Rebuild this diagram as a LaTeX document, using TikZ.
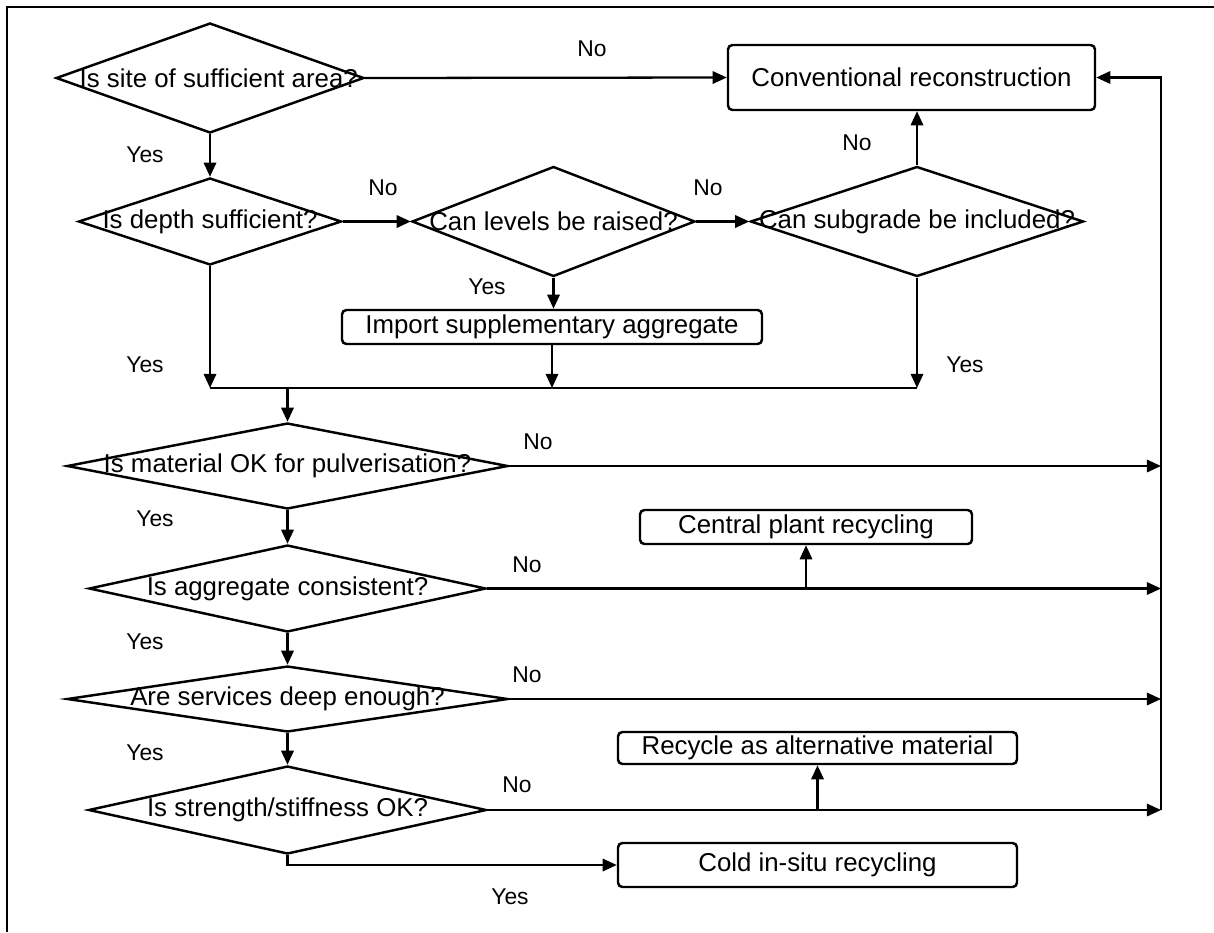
\documentclass[tikz,border=0pt]{standalone}
\usepackage{fontspec}
\setmainfont{Liberation Sans}
\usepackage{tikz}
\usetikzlibrary{arrows.meta}
\usetikzlibrary{shapes.geometric, calc}
\tikzstyle{decision} = [diamond, draw=black, line width=1.4pt, inner sep=0pt]
\tikzstyle{outcome} = [rectangle, rounded corners=2.5pt, draw=black, line width=1.4pt, inner sep=0pt, text centered]
\tikzstyle{arrow} = [line width=1.3pt, -{Triangle[length=8pt,width=7pt]}]
\tikzstyle{answer} = [font=\fontsize{13}{15}\selectfont]
\newcommand{\dtext}[1]{\makebox[0pt]{#1}}

\begin{document}
\begin{tikzpicture}[
            every node/.style={font=\fontsize{14.7}{17}\selectfont},
            link/.style={line width=1.3pt}
        ]
            \useasboundingbox (0,0) rectangle (24.28,-18.64);
            % Frame
            \draw[line width=1.2pt] (0.14,-18.64) -- (0.14,-0.14) -- (24.28,-0.14);

            % Nodes
            \node (site) [decision, minimum width=6.16cm, minimum height=2.2cm] at (4.2,-1.56) {\dtext{\hspace{0.35cm}Is site of sufficient area?}};
            \node (depth) [decision, minimum width=5.26cm, minimum height=1.74cm] at (4.2,-4.43) {\dtext{Is depth sufficient?}};
            \node (levels) [decision, minimum width=5.66cm, minimum height=2.2cm] at (11.07,-4.43) {\dtext{Can levels be raised?}};
            \node (subgrade) [decision, minimum width=6.66cm, minimum height=2.2cm] at (18.34,-4.43) {\dtext{Can subgrade be included?}};
            \node (conv) [outcome, minimum width=7.34cm, minimum height=1.3cm] at (18.23,-1.55) {Conventional reconstruction};
            \node (import) [outcome, minimum width=8.4cm, minimum height=0.68cm] at (11.04,-6.54) {Import supplementary aggregate};
            \node (pulv) [decision, minimum width=8.82cm, minimum height=1.72cm] at (5.75,-9.32) {\dtext{Is material OK for pulverisation?}};
            \node (consist) [decision, minimum width=7.94cm, minimum height=1.74cm] at (5.75,-11.77) {\dtext{Is aggregate consistent?}};
            \node (services) [decision, minimum width=8.82cm, minimum height=1.32cm] at (5.75,-13.98) {\dtext{Are services deep enough?}};
            \node (strength) [decision, minimum width=7.96cm, minimum height=1.76cm] at (5.75,-16.2) {\dtext{Is strength/stiffness OK?}};
            \node (central) [outcome, minimum width=6.64cm, minimum height=0.68cm] at (16.12,-10.54) {Central plant recycling};
            \node (recycle) [outcome, minimum width=7.98cm, minimum height=0.64cm] at (16.35,-14.96) {Recycle as alternative material};
            \node (cold) [outcome, minimum width=7.98cm, minimum height=0.88cm] at (16.35,-17.3) {Cold in-situ recycling};
            \coordinate (merge) at (4.2,-7.76);
            \coordinate (rail) at (23.22,-16.2);

            % Labels
            \node (y1) [answer] at (2.9,-3.1) {Yes};
            \node (n1) [answer] at (11.84,-0.98) {No};
            \node (n2) [answer] at (7.66,-3.76) {No};
            \node (n3) [answer] at (14.16,-3.76) {No};
            \node (n4) [answer] at (17.14,-2.86) {No};
            \node (y2) [answer] at (9.74,-5.74) {Yes};
            \node (y3) [answer] at (2.9,-7.3) {Yes};
            \node (y4) [answer] at (19.3,-7.3) {Yes};
            \node (n5) [answer] at (10.76,-8.84) {No};
            \node (y5) [answer] at (3.1,-10.38) {Yes};
            \node (n6) [answer] at (10.54,-11.3) {No};
            \node (y6) [answer] at (2.9,-12.84) {Yes};
            \node (n7) [answer] at (10.54,-13.5) {No};
            \node (y7) [answer] at (2.9,-15.06) {Yes};
            \node (n8) [answer] at (10.34,-15.7) {No};
            \node (y8) [answer] at (10.2,-17.94) {Yes};

            % Arrows
            \draw [arrow] (site) -- (depth);
            \draw [arrow] (site.east) -- (conv.west);
            \draw [arrow] (depth.east) -- (levels.west);
            \draw [arrow] (levels.east) -- (subgrade.west);
            \draw [arrow] (subgrade.north) -- (subgrade.north |- conv.south);
            \draw [arrow] (levels.south) -- (levels.south |- import.north);
            \draw [arrow] (depth.south) -- (depth.south |- merge);
            \draw [arrow] (import.south) -- (import.south |- merge);
            \draw [arrow] (subgrade.south) -- (subgrade.south |- merge);
            \draw [link] (depth.south |- merge) -- (subgrade.south |- merge);
            \draw [arrow] (pulv.north |- merge) -- (pulv.north);
            \draw [arrow] (pulv) -- (consist);
            \draw [arrow] (consist) -- (services);
            \draw [arrow] (services) -- (strength);
            \draw [arrow] (pulv.east) -- (pulv.east -| rail);
            \draw [arrow] (consist.east) -- (consist.east -| rail);
            \draw [arrow] (services.east) -- (services.east -| rail);
            \draw [arrow] (strength.east) -- (strength.east -| rail);
            \draw [arrow] (central.south |- consist.east) -- (central.south);
            \draw [arrow] (recycle.south |- strength.east) -- (recycle.south);
            \draw [arrow] (rail) |- (conv.east);
            \draw [arrow] (strength.south) |- (cold.west);
        \end{tikzpicture}
\end{document}
